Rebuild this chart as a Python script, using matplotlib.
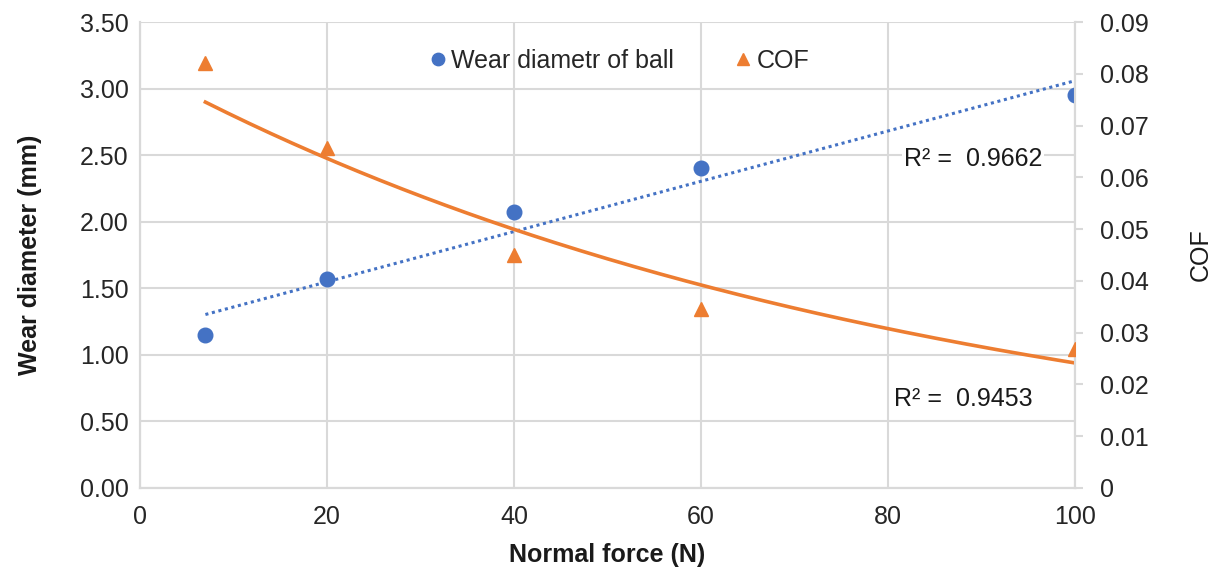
import numpy as np
import matplotlib
matplotlib.use("Agg")
import matplotlib.pyplot as plt

plt.rcParams['font.family'] = ['Liberation Sans', 'DejaVu Sans']

# data
force = np.array([7, 20, 40, 60, 100])
wear = np.array([1.15, 1.57, 2.07, 2.40, 2.95])
cof = np.array([0.082, 0.0656, 0.045, 0.0346, 0.0268])
r2_wear = "0.9662"
r2_cof = "0.9453"

blue = "#4472C4"
orange = "#ED7D31"
grid = "#D9D9D9"
fs = 18

fig = plt.figure(figsize=(12.16, 5.76), dpi=100)
ax = fig.add_axes([0.1151, 0.1528, 0.7689, 0.809])
ax2 = ax.twinx()

# trendlines: linear for wear, exponential for COF
xs = np.linspace(force.min(), force.max(), 200)
p = np.polyfit(force, wear, 1)
ax.plot(xs, np.polyval(p, xs), color=blue, lw=2.2, ls=(0, (1, 1.2)), zorder=2)
q = np.polyfit(force, np.log(cof), 1)
ax2.plot(xs, np.exp(np.polyval(q, xs)), color=orange, lw=2.6, zorder=2)

h1, = ax.plot(force, wear, 'o', color=blue, ms=10.5, zorder=3, label="Wear diametr of ball")
h2, = ax2.plot(force, cof, '^', color=orange, ms=10.5, zorder=3, label="COF")

ax.set_xlim(0, 100)
ax.set_ylim(0, 3.5)
ax2.set_ylim(0, 0.09)
ax.set_xticks(np.arange(0, 101, 20))
ax.set_yticks(np.arange(0, 3.51, 0.5))
ax.set_yticklabels([f"{v:.2f}" for v in np.arange(0, 3.51, 0.5)])
ax2.set_yticks(np.arange(0, 0.091, 0.01))
ax2.set_yticklabels(["0"] + [f"{v:.2f}" for v in np.arange(0.01, 0.091, 0.01)])

ax.grid(True, color=grid, lw=1.5)
ax.set_axisbelow(True)
for a in (ax, ax2):
    for s in a.spines.values():
        s.set_color(grid)
        s.set_linewidth(1.5)
ax.spines['top'].set_visible(False)
ax2.spines['top'].set_visible(False)

ax.tick_params(axis='both', length=0, labelsize=fs, colors="#262626", pad=8)
ax.tick_params(axis='x', pad=12)
ax2.tick_params(axis='y', length=6, width=1.5, color=grid, labelsize=fs,
                labelcolor="#262626", pad=12)

ax.set_xlabel("Normal force (N)", fontsize=fs, fontweight='bold', color="#1a1a1a", labelpad=10)
ax.set_ylabel("Wear diameter (mm)", fontsize=fs, fontweight='bold', color="#1a1a1a", labelpad=27)
ax2.set_ylabel("COF", fontsize=fs, color="#1a1a1a", labelpad=29)

ax.text(0.817, 0.705, "R² =  " + r2_wear, transform=ax.transAxes, fontsize=fs,
        color="#1a1a1a", va='center', zorder=4,
        bbox=dict(facecolor='white', edgecolor='none', pad=1))
ax.text(0.806, 0.19, "R² =  " + r2_cof, transform=ax.transAxes, fontsize=fs,
        color="#1a1a1a", va='center')

leg = ax.legend(handles=[h1, h2], loc='upper center', bbox_to_anchor=(0.51, 0.99),
                ncol=2, frameon=False, fontsize=fs, handletextpad=0.0,
                columnspacing=2.2, handlelength=1.1, markerscale=0.85)
for t in leg.get_texts():
    t.set_color("#262626")

fig.savefig("out.png", dpi=100)
